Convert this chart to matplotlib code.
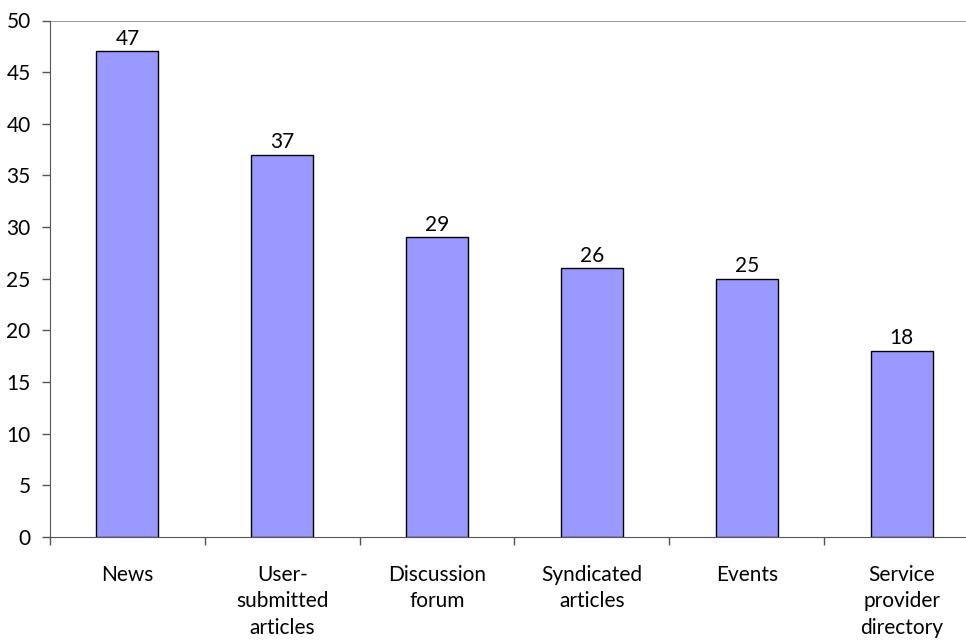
import matplotlib
matplotlib.use("Agg")
import matplotlib.pyplot as plt
import numpy as np

categories = ["News", "User-\nsubmitted\narticles", "Discussion\nforum", "Syndicated\narticles", "Events", "Service\nprovider\ndirectory"]
values = [47, 37, 29, 26, 25, 18]
yticks = [0, 5, 10, 15, 20, 25, 30, 35, 40, 45, 50]

plt.rcParams['font.family'] = ['Lato', 'DejaVu Sans']
FS = 15

fig = plt.figure(figsize=(9.66, 6.41), dpi=100)
ax = fig.add_axes([50/966, 104/641, 929/966, 516.5/641])

x = np.arange(len(categories))
bars = ax.bar(x, values, width=0.4, color="#9999FF", edgecolor="black", linewidth=1.0, zorder=3)
for xi, v in zip(x, values):
    ax.annotate(str(v), (xi, v), xytext=(0, 2), textcoords="offset points",
                ha="center", va="bottom", fontsize=FS)

ax.set_xlim(-0.5, len(categories) - 0.5)
ax.set_ylim(0, 50)
ax.set_yticks(yticks)
ax.set_yticklabels([str(t) for t in yticks], fontsize=FS)
ax.axhline(50, color="#888888", linewidth=1.2, zorder=1)

ax.set_xticks(np.arange(len(categories) + 1) - 0.5)
ax.set_xticklabels([])
ax.set_xticks(x, minor=True)
ax.set_xticklabels(categories, minor=True, fontsize=FS, linespacing=1.42, va="top")
ax.tick_params(axis="x", which="minor", length=0, pad=20)
ax.tick_params(axis="x", which="major", length=6, width=1, color="#555555", direction="out")
ax.tick_params(axis="y", length=6, width=1, color="#555555", direction="out", pad=8)

for s in ["top", "right"]:
    ax.spines[s].set_visible(False)
ax.spines["left"].set_color("#555555")
ax.spines["bottom"].set_color("#555555")

fig.savefig("out.png", dpi=100)
